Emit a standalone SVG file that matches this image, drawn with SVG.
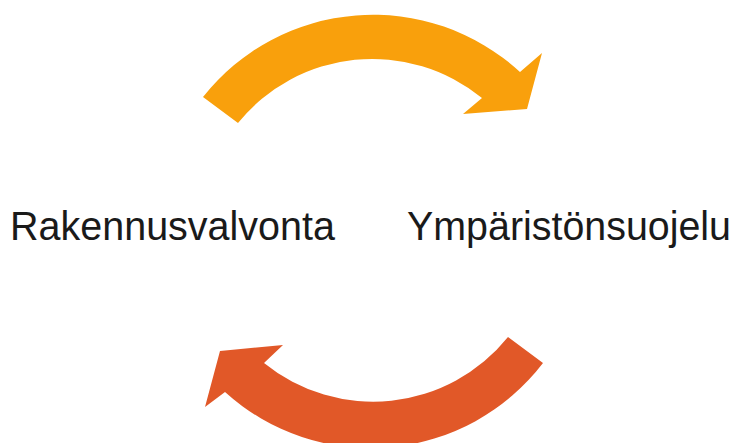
<svg xmlns="http://www.w3.org/2000/svg" width="737" height="443" viewBox="0 0 737 443">
<style>
.lbl{font-family:"Liberation Sans",Arial,sans-serif;font-size:40px;fill:#1a1a1a}
</style>
<rect width="737" height="443" fill="#ffffff"/>
<g id="connectors">
<path id="arrow-top" d="M 203,97 A 217 217 0 0 1 520,72 L 542,53 L 527,109 L 463,114 L 482,98 A 173 173 0 0 0 238,123 Z" fill="#F9A00C"/>
<path id="arrow-bottom" d="M 543,363 A 217 217 0 0 1 225,392 L 205,407 L 220,351 L 283,345 L 264,363 A 173 173 0 0 0 508,337 Z" fill="#E15828"/>
</g>
<g id="node-rakennusvalvonta"><text class="lbl" x="10" y="240" textLength="325" lengthAdjust="spacingAndGlyphs">Rakennusvalvonta</text></g>
<g id="node-ymparistonsuojelu"><text class="lbl" x="407" y="240" textLength="324" lengthAdjust="spacingAndGlyphs">Ympäristönsuojelu</text></g>
</svg>
